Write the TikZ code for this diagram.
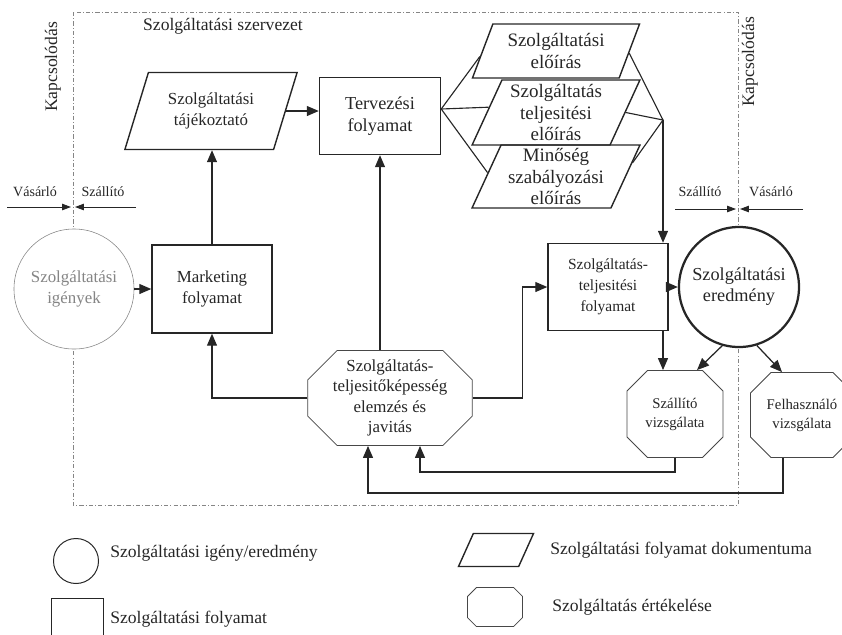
\documentclass[tikz,border=0pt]{standalone}
\usepackage{fontspec}
\setmainfont{Liberation Serif}
\usetikzlibrary{shapes,arrows.meta,calc}
\definecolor{ink}{HTML}{262626}
\definecolor{pale}{HTML}{858585}
\newcommand{\fsz}[2]{\fontsize{#1}{#2}\selectfont}
\tikzset{
  every node/.style={text=ink},
  proc/.style={draw=ink, line width=1pt, minimum width=3cm, minimum height=2.2cm,
               align=center, inner sep=0pt, font=\fsz{12}{15}},
  doc/.style={trapezium, trapezium left angle=66, trapezium right angle=114,
              trapezium stretches=true, draw=ink, line width=1pt, align=center,
              inner sep=0pt, font=\fsz{12}{15}},
  spec/.style={doc, minimum width=4.2cm, font=\fsz{13.5}{15.5}},
  need/.style={circle, draw=ink, fill=white, minimum size=3cm, inner sep=0pt,
               align=center, font=\fsz{12}{15}},
  evalbox/.style={chamfered rectangle, chamfered rectangle angle=45, draw=ink!85,
                  fill=white, line width=0.6pt, inner sep=0pt, align=center},
  flow/.style={draw=ink, line width=0.9pt, -{Triangle[length=0.3cm,width=0.25cm]}},
  fanline/.style={draw=ink, line width=0.8pt},
  sidearrow/.style={draw=ink, line width=0.6pt, -{Triangle[length=0.22cm,width=0.16cm]}},
  sidelabel/.style={font=\fsz{10}{12}, inner sep=0pt},
  orgframe/.style={draw=pale, line width=0.5pt,
                   dash pattern=on 3pt off 1.5pt on 0.7pt off 1.5pt},
  legend/.style={anchor=west, inner sep=0pt, font=\fsz{12.5}{15}}
}

\begin{document}
\begin{tikzpicture}[x=0.025cm, y=-0.025cm]
\useasboundingbox (0,0) rectangle (842,634);

% service organisation boundary
\draw[orgframe] (73,12) rectangle (738,505);
\node[font=\fsz{12.5}{15}] (org) at (223,26) {Szolgáltatási szervezet};
\node[rotate=90, font=\fsz{12.5}{15}] (kapL) at (53,67) {Kapcsolódás};
\node[rotate=90, font=\fsz{12.5}{15}] (kapR) at (750,62) {Kapcsolódás};

% buyer / supplier interfaces
\node[sidelabel] (vasL) at (35,192) {Vásárló};
\node[sidelabel] (szaL) at (103,192) {Szállító};
\node[sidelabel] (szaR) at (700,192) {Szállító};
\node[sidelabel] (vasR) at (771,192) {Vásárló};
\coordinate (kL) at (73,207);
\coordinate (kR) at (738,209);
\draw[sidearrow] ($(kL)+(-66,0)$) -- ($(kL)+(-2,0)$);
\draw[sidearrow] ($(kL)+(63,0)$) -- ($(kL)+(2,0)$);
\draw[sidearrow] ($(kR)+(-63,0)$) -- ($(kR)+(-2,0)$);
\draw[sidearrow] ($(kR)+(65,0)$) -- ($(kR)+(2,0)$);

% processes and documents
\node[need, draw=pale, text=pale] (igeny) at (74,289) {Szolgáltatási\\igények};
\node[proc] (mkt) at (212,289) {Marketing\\folyamat};
\node[doc, minimum width=4.325cm, minimum height=1.925cm] (taj) at (211,111)
  {Szolgáltatási\\tájékoztató};
\node[proc, minimum width=3.025cm, minimum height=1.925cm, font=\fsz{13}{15.5}] (terv)
  at (380,116) {Tervezési\\folyamat};
\node[spec, minimum height=1.35cm] (p1) at (556,51) {Szolgáltatási\\előírás};
\node[spec, minimum height=1.625cm] (p2) at (556,112.5) {Szolgáltatás\\teljesitési\\előírás};
\node[spec, minimum height=1.575cm] (p3) at (556,176.5) {Minőség\\szabályozási\\előírás};
\node[proc, minimum height=2.175cm, font=\fsz{11}{15}] (telj) at (608,287)
  {Szolgáltatás-\\teljesitési\\folyamat};
\node[need, line width=1.6pt, font=\fsz{13}{15}] (eredm) at (739,287)
  {Szolgáltatási\\eredmény};

% evaluation octagons
\node[evalbox, minimum width=3.125cm, minimum height=2.375cm,
      chamfered rectangle xsep=0.625cm, font=\fsz{12}{14.4}] (oct) at (390,398)
  {Szolgáltatás-\\teljesitőképesség\\elemzés és\\javitás};
\node[evalbox, minimum width=2.4cm, minimum height=2.175cm,
      chamfered rectangle xsep=0.575cm, font=\fsz{10.5}{13.5}] (szall) at (675,414)
  {Szállító\\vizsgálata};
\node[evalbox, minimum width=2.3cm, minimum height=2.125cm,
      chamfered rectangle xsep=0.6cm, font=\fsz{10.5}{13.5}] (felh) at (802,415)
  {Felhasználó\\vizsgálata};

% design process fans out to the specifications
\coordinate (fanL) at (terv.east |- 0,109);
\coordinate (fanR) at (663,120);
\draw[fanline] ($(p1.top left corner)!0.6!(p1.bottom left corner)$) -- (fanL)
  -- ($(p3.top left corner)!0.44!(p3.bottom left corner)$);
\draw[fanline] (fanL) -- ($(p2.top left corner)!0.42!(p2.bottom left corner)$);
\draw[fanline] ($(p1.top right corner)!0.54!(p1.bottom right corner)$) -- (fanR)
  -- ($(p3.top right corner)!0.29!(p3.bottom right corner)$);
\draw[fanline] (p2.right side) -- (fanR);

% flows
\draw[flow] (igeny.east) -- (mkt.west);
\draw[flow] (mkt.north) -- (mkt.north |- taj.bottom side);
\draw[flow] (taj.right side) -- (terv.west |- taj.right side);
\draw[flow] (terv.south |- oct.north) -- (terv.south);
\draw[flow] (oct.west) -| (mkt.south);
\draw[flow] (oct.east) -- ++(50,0) |- (telj.west);
\draw[flow] (fanR) -- (fanR |- telj.north);
\draw[flow] (telj.east) -- (eredm.west);
\draw[flow] (telj.south -| fanR) -- (fanR |- szall.north);
\draw[flow] (eredm.-106) -- ($(szall.north)+(22,0)$);
\draw[flow] (eredm.-73) -- ($(felh.north)+(-20,0)$);

% feedback from the evaluations
\draw[flow] (szall.south) -- ++(0,14) -| ($(oct.south)+(30,0)$);
\draw[flow] ($(felh.south)+(-19,0)$) -- ++(0,35) -| ($(oct.south)+(-22,0)$);

% legend
\node[need, minimum size=1.125cm, line width=0.7pt] (lgNeed) at (76,561) {};
\node[legend] (lgNeedT) at (110,553) {Szolgáltatási igény/eredmény};
\node[proc, minimum width=1.3cm, minimum height=1.25cm, line width=0.7pt] (lgProc)
  at (77,623) {};
\node[legend] (lgProcT) at (110,619) {Szolgáltatási folyamat};
\node[doc, minimum width=1.875cm, minimum height=0.825cm] (lgDoc) at (496,550)
  {\phantom{M}};
\node[legend] (lgDocT) at (550,550) {Szolgáltatási folyamat dokumentuma};
\node[evalbox, minimum width=1.375cm, minimum height=0.975cm,
      chamfered rectangle xsep=0.3cm] (lgEval) at (495,607) {\phantom{M}};
\node[legend] (lgEvalT) at (552,607) {Szolgáltatás értékelése};
\end{tikzpicture}
\end{document}
